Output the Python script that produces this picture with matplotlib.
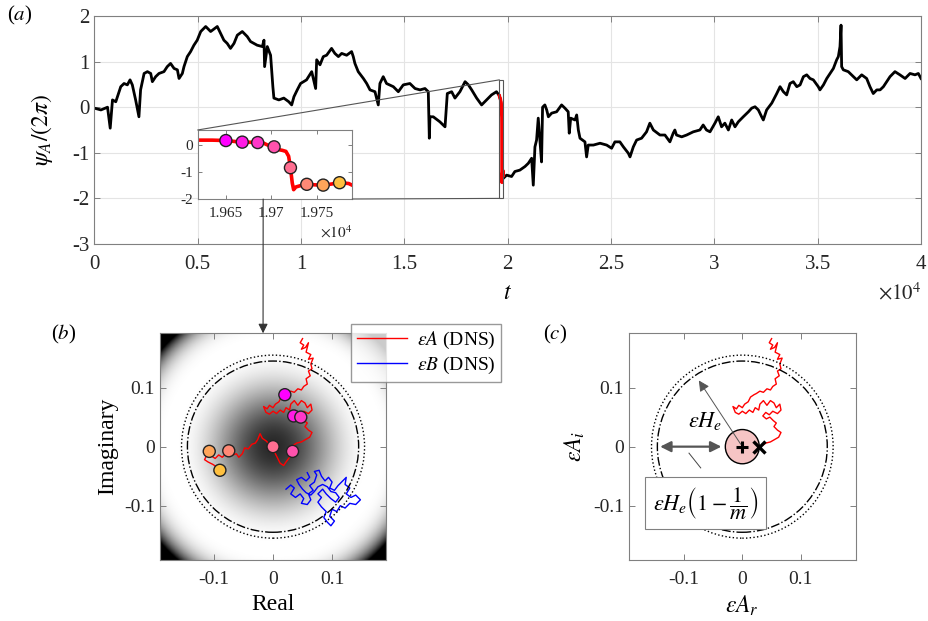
import numpy as np
import matplotlib
matplotlib.use("Agg")
import matplotlib.pyplot as plt
from matplotlib.patches import Circle, Rectangle, ConnectionPatch

plt.rcParams['font.family'] = ['Liberation Serif', 'DejaVu Serif']
plt.rcParams['mathtext.fontset'] = 'stix'
plt.rcParams['axes.unicode_minus'] = False

# (a) phase of A, time in units of 1e4 (black part)
t_a = [0.0, 0.032, 0.064, 0.077, 0.088, 0.104, 0.128, 0.144, 0.160, 0.173, 0.184, 0.200, 0.216, 0.224,
       0.241, 0.257, 0.273, 0.281, 0.297, 0.313, 0.337, 0.353, 0.369, 0.386, 0.402, 0.410, 0.426, 0.434,
       0.450, 0.466, 0.482, 0.498, 0.515, 0.539, 0.563, 0.595, 0.611, 0.627, 0.643, 0.659, 0.676, 0.692,
       0.716, 0.740, 0.756, 0.788, 0.813, 0.821, 0.824, 0.837, 0.853, 0.864, 0.869, 0.893, 0.917, 0.941,
       0.955, 0.966, 0.982, 0.998, 1.027, 1.052, 1.071, 1.076, 1.092, 1.108, 1.124, 1.148, 1.164, 1.181,
       1.197, 1.221, 1.245, 1.253, 1.261, 1.277, 1.302, 1.318, 1.334, 1.358, 1.374, 1.382, 1.398, 1.414,
       1.447, 1.471, 1.495, 1.527, 1.552, 1.576, 1.600, 1.616, 1.621, 1.624, 1.640, 1.672, 1.697, 1.708,
       1.729, 1.745, 1.769, 1.794, 1.810, 1.826, 1.850, 1.874, 1.898, 1.922, 1.946, 1.960,
       1.979, 1.995, 2.019, 2.035, 2.059, 2.084, 2.100, 2.116, 2.124, 2.132, 2.140, 2.148, 2.156, 2.164,
       2.169, 2.180, 2.189, 2.197, 2.213, 2.237, 2.261, 2.277, 2.293, 2.298, 2.305, 2.326, 2.334, 2.342,
       2.350, 2.374, 2.382, 2.390, 2.415, 2.447, 2.479, 2.503, 2.519, 2.543, 2.560, 2.584, 2.592, 2.608,
       2.624, 2.648, 2.672, 2.688, 2.705, 2.737, 2.761, 2.785, 2.801, 2.809, 2.817, 2.842, 2.866, 2.898,
       2.930, 2.946, 2.962, 2.979, 3.003, 3.019, 3.035, 3.051, 3.068, 3.084, 3.100, 3.116, 3.140, 3.165,
       3.181, 3.197, 3.213, 3.229, 3.237, 3.253, 3.278, 3.302, 3.318, 3.334, 3.350, 3.366, 3.382, 3.399,
       3.415, 3.431, 3.447, 3.463, 3.479, 3.503, 3.511, 3.528, 3.544, 3.560, 3.576, 3.592, 3.600, 3.608,
       3.613, 3.616, 3.624, 3.648, 3.673, 3.689, 3.713, 3.737, 3.753, 3.769, 3.786, 3.802, 3.818, 3.834,
       3.850, 3.874, 3.898, 3.923, 3.947, 3.971, 3.987, 4.0]
psi_a = [-0.02, -0.06, 0.0, -0.46, 0.16, 0.12, 0.45, 0.52, 0.49, 0.60, 0.49, 0.16, -0.21, 0.38,
         0.74, 0.78, 0.74, 0.56, 0.67, 0.74, 0.78, 0.89, 0.96, 0.85, 0.82, 0.63, 0.74, 0.89,
         1.11, 1.22, 1.36, 1.47, 1.66, 1.77, 1.66, 1.77, 1.62, 1.47, 1.40, 1.29, 1.40, 1.58,
         1.66, 1.55, 1.44, 1.36, 1.33, 1.47, 0.89, 1.33, 1.14, 0.45, 0.20, 0.16, 0.20, 0.12,
         0.05, 0.23, 0.38, 0.52, 0.60, 0.78, 0.41, 1.04, 0.93, 1.11, 1.14, 1.29, 1.18, 1.11,
         1.18, 1.14, 1.22, 1.11, 0.96, 0.78, 0.63, 0.52, 0.38, 0.34, 0.05, 0.52, 0.67, 0.52,
         0.45, 0.34, 0.49, 0.52, 0.41, 0.38, 0.41, 0.34, -0.68, -0.21, -0.21, -0.32, -0.43, 0.30,
         0.34, 0.20, 0.34, 0.56, 0.49, 0.38, 0.20, 0.05, 0.16, 0.27, 0.34, 0.25,
         -1.56, -1.49, -1.52, -1.41, -1.38, -1.30, -1.23, -1.12, -1.71, -0.87, -0.72, -0.24, -0.72, -1.20,
         0.0, 0.05, -0.06, -0.21, -0.13, -0.10, 0.05, -0.02, -0.10, -0.57, -0.24, -0.28, -0.17, -0.50,
         -0.68, -0.76, -1.09, -0.83, -0.83, -0.79, -0.83, -0.90, -0.76, -0.76, -0.87, -1.01, -1.09, -0.87,
         -0.72, -0.68, -0.54, -0.35, -0.50, -0.61, -0.61, -0.76, -0.57, -0.50, -0.61, -0.65, -0.61, -0.54,
         -0.50, -0.39, -0.50, -0.54, -0.35, -0.21, -0.43, -0.35, -0.50, -0.28, -0.43, -0.32, -0.21, -0.10,
         -0.02, 0.01, -0.06, -0.21, -0.28, -0.06, 0.09, 0.30, 0.45, 0.34, 0.27, 0.52, 0.56, 0.45,
         0.49, 0.67, 0.71, 0.63, 0.60, 0.45, 0.38, 0.49, 0.63, 0.74, 0.85, 1.04, 1.11, 1.33,
         1.80, 0.89, 0.82, 0.78, 0.67, 0.60, 0.71, 0.63, 0.45, 0.30, 0.38, 0.38, 0.45, 0.56,
         0.67, 0.78, 0.71, 0.63, 0.74, 0.71, 0.74, 0.63]

# red segment (phase slip) shown in the inset
t_jump = [1.9600, 1.9620, 1.9635, 1.9650, 1.9660, 1.9668, 1.9678, 1.9685, 1.9692, 1.9697, 1.9703,
          1.9707, 1.9712, 1.9716, 1.9719, 1.9721, 1.9723, 1.97245, 1.9727, 1.9732, 1.9739, 1.9748,
          1.9757, 1.9766, 1.9775, 1.9785, 1.9790]
psi_jump = [0.25, 0.20, 0.20, 0.185, 0.15, 0.126, 0.12, 0.11, 0.08, 0.0, -0.05,
            -0.15, -0.18, -0.22, -0.40, -0.83, -1.40, -1.65, -1.55, -1.50, -1.45, -1.47,
            -1.48, -1.44, -1.39, -1.42, -1.50]

# sampled instants
t_mark = [1.9650, 1.9668, 1.9685, 1.9703, 1.9721, 1.9739, 1.9757, 1.9775]
psi_mark = [0.185, 0.126, 0.11, -0.05, -0.83, -1.45, -1.48, -1.39]
re_mark = [0.020, 0.035, 0.047, 0.033, 0.0, -0.075, -0.108, -0.090]
im_mark = [0.088, 0.052, 0.050, -0.008, 0.0, -0.007, -0.008, -0.040]
mark_colors = ['#ff00ff', '#ff1be4', '#ff37c8', '#ff52ad', '#ff6e91', '#ff8976', '#ffa55a', '#ffc03f']

# trajectory of eps*A in the complex plane (time ordered)
re_A = [0.050, 0.046, 0.052, 0.048, 0.055, 0.060, 0.056, 0.064, 0.060, 0.068, 0.064, 0.066, 0.060, 0.063,
        0.056, 0.058, 0.052, 0.048, 0.042, 0.036, 0.030, 0.024, 0.020,
        0.014, 0.010, 0.004, 0.000, -0.006, -0.010, -0.016, -0.012, -0.006, 0.000, 0.006, 0.012, 0.018,
        0.022, 0.028, 0.030, 0.036, 0.042, 0.048, 0.054, 0.058, 0.064, 0.066, 0.060, 0.052, 0.046, 0.040,
        0.035, 0.041, 0.047, 0.053, 0.058, 0.054, 0.060, 0.066, 0.062, 0.055, 0.048, 0.040, 0.034, 0.028,
        0.033, 0.028, 0.022, 0.018, 0.012, 0.008, 0.004, 0.000, 0.000, -0.006, -0.012, -0.018, -0.022,
        -0.026, -0.030, -0.036, -0.042, -0.048, -0.052, -0.058, -0.062, -0.068, -0.075, -0.080, -0.086,
        -0.092, -0.098, -0.104, -0.108, -0.112, -0.116, -0.110, -0.102, -0.096, -0.090]
im_A = [0.183, 0.176, 0.172, 0.165, 0.168, 0.176, 0.160, 0.156, 0.148, 0.150, 0.140, 0.132, 0.128, 0.120,
        0.115, 0.106, 0.102, 0.096, 0.098, 0.092, 0.094, 0.090, 0.088,
        0.084, 0.076, 0.072, 0.066, 0.070, 0.064, 0.068, 0.058, 0.055, 0.060, 0.056, 0.062, 0.058,
        0.066, 0.062, 0.072, 0.078, 0.070, 0.078, 0.074, 0.066, 0.072, 0.062, 0.056, 0.060, 0.054, 0.058,
        0.052, 0.047, 0.050, 0.044, 0.040, 0.034, 0.028, 0.024, 0.016, 0.012, 0.008, 0.006, 0.002, 0.000,
        -0.008, -0.018, -0.026, -0.032, -0.028, -0.020, -0.012, -0.004, 0.000, 0.004, 0.010, 0.014, 0.022,
        0.012, 0.006, 0.004, -0.004, -0.002, -0.012, -0.018, -0.012, -0.014, -0.007, -0.012, -0.018,
        -0.014, -0.020, -0.016, -0.008, -0.014, -0.022, -0.026, -0.030, -0.034, -0.040]
n_c = 64  # points up to the current state shown in (c)

# trajectory of eps*B
re_B = [0.022, 0.030, 0.036, 0.030, 0.038, 0.046, 0.052, 0.048, 0.058, 0.064, 0.060, 0.068, 0.062, 0.070,
        0.074, 0.070, 0.078, 0.082, 0.088, 0.094, 0.100, 0.096, 0.104, 0.110, 0.118, 0.124, 0.122, 0.130,
        0.124, 0.132, 0.140, 0.148, 0.140, 0.130, 0.122, 0.114, 0.108, 0.100, 0.096, 0.104, 0.098, 0.092,
        0.086, 0.090, 0.082, 0.076, 0.082, 0.076, 0.084, 0.090, 0.098, 0.106, 0.112, 0.106, 0.098, 0.092,
        0.084, 0.076, 0.070, 0.064, 0.056, 0.050, 0.044, 0.040, 0.048, 0.056, 0.062, 0.058]
im_B = [-0.072, -0.065, -0.070, -0.080, -0.086, -0.080, -0.088, -0.096, -0.098, -0.090, -0.080, -0.074,
        -0.066, -0.060, -0.048, -0.042, -0.040, -0.050, -0.058, -0.052, -0.060, -0.070, -0.074, -0.066,
        -0.058, -0.052, -0.064, -0.070, -0.080, -0.086, -0.082, -0.090, -0.098, -0.096, -0.104, -0.100,
        -0.110, -0.106, -0.118, -0.126, -0.134, -0.128, -0.120, -0.110, -0.102, -0.094, -0.086, -0.080,
        -0.072, -0.080, -0.088, -0.094, -0.086, -0.078, -0.076, -0.068, -0.064, -0.068, -0.076, -0.082,
        -0.078, -0.072, -0.064, -0.056, -0.052, -0.058, -0.052, -0.044]

# reference radii and current state
r_inner = 0.145
r_outer = 0.155
r_small = 0.029
r_white = 0.175
x_now = 0.028

spine_c = '#808080'


def style_axes(ax, size):
    ax.tick_params(direction='in', top=True, right=True, labelsize=size, color=spine_c,
                   labelcolor='#262626', length=4, width=0.7)
    for s in ax.spines.values():
        s.set_color(spine_c)
        s.set_linewidth(0.8)


fig = plt.figure(figsize=(9.29, 6.21), dpi=100)

# ---- (a)
ax = fig.add_axes([0.1015, 0.6071, 0.8899, 0.3671])
ax.plot(t_a[:110], psi_a[:110], color='k', lw=2.0)
ax.plot(t_a[110:], psi_a[110:], color='k', lw=2.0)
ax.plot(t_jump, psi_jump, color='r', lw=2.4, zorder=3)
ax.set_xlim(0, 4)
ax.set_ylim(-3, 2)
ax.set_xticks([0, 0.5, 1, 1.5, 2, 2.5, 3, 3.5, 4])
ax.set_xticklabels(['0', '0.5', '1', '1.5', '2', '2.5', '3', '3.5', '4'])
ax.set_yticks([-3, -2, -1, 0, 1, 2])
ax.set_yticklabels(['-3', '-2', '-1', '0', '1', '2'])
ax.grid(True, color='#e4e4e4', lw=0.8)
ax.set_axisbelow(True)
style_axes(ax, 15)
ax.tick_params(axis='x', pad=8)
ax.set_xlabel(r'$t$', fontsize=17)
ax.xaxis.set_label_coords(0.5, -0.17)
ax.set_ylabel(r'$\psi_A/(2\pi)$', fontsize=17)
ax.yaxis.set_label_coords(-0.047, 0.5)
ax.add_patch(Rectangle((1.960, -2), 0.019, 2.6, fill=False, ec='#555555', lw=0.8, zorder=4))
fig.text(0.9914, 0.528, r'$\times 10^4$', fontsize=15, ha='right', va='center', color='#262626')
fig.text(0.007, 0.975, r'($a$)', fontsize=15, ha='left', va='center')

# inset
axi = fig.add_axes([0.2128, 0.6795, 0.1664, 0.1112])
axi.plot(t_jump, psi_jump, color='k', lw=1.0)
axi.plot(t_jump, psi_jump, color='r', lw=2.6)
axi.scatter(t_mark, psi_mark, s=75, c=mark_colors, edgecolors='#222222', linewidths=1.0, zorder=5)
axi.set_xlim(1.9619, 1.9789)
axi.set_ylim(-2, 0.58)
axi.set_xticks([1.965, 1.97, 1.975])
axi.set_xticklabels(['1.965', '1.97', '1.975'])
axi.set_yticks([-2, -1, 0])
axi.set_yticklabels(['-2', '-1', '0'])
style_axes(axi, 11)
axi.tick_params(length=3)
axi.tick_params(axis='x', pad=6)
fig.text(0.362, 0.625, r'$\times 10^4$', fontsize=11, ha='center', va='center', color='#262626')

for xyA, xyB in [((0, 1), (1.960, 0.6)), ((1, 0), (1.960, -2))]:
    con = ConnectionPatch(xyA=xyA, coordsA=axi.transAxes, xyB=xyB, coordsB=ax.transData,
                          color='#555555', lw=0.8)
    fig.add_artist(con)

# ---- (b)
axb = fig.add_axes([0.1715, 0.0982, 0.2448, 0.3651])
g = np.linspace(-0.192, 0.192, 400)
X, Y = np.meshgrid(g, g)
u = (X ** 2 + Y ** 2) / r_white ** 2
shade = np.clip(1 - 0.84 * np.abs(1 - u) ** 3, 0, 1)
axb.imshow(shade, cmap='gray', vmin=0, vmax=1, extent=[-0.192, 0.192, -0.192, 0.192],
           origin='lower', interpolation='bilinear')
lA, = axb.plot(re_A, im_A, color='r', lw=1.0, label=r'$\varepsilon A$ (DNS)')
lB, = axb.plot(re_B, im_B, color='b', lw=1.0, label=r'$\varepsilon B$ (DNS)')
axb.add_patch(Circle((0, 0), r_inner, fill=False, ec='k', lw=1.0, ls='-.', zorder=4))
axb.add_patch(Circle((0, 0), r_outer, fill=False, ec='k', lw=1.0, ls=':', zorder=4))
axb.scatter(re_mark, im_mark, s=75, c=mark_colors, edgecolors='#222222', linewidths=1.0, zorder=6)
axb.set_xlim(-0.192, 0.192)
axb.set_ylim(-0.192, 0.192)
axb.set_xticks([-0.1, 0, 0.1])
axb.set_xticklabels(['-0.1', '0', '0.1'])
axb.set_yticks([-0.1, 0, 0.1])
axb.set_yticklabels(['-0.1', '0', '0.1'])
style_axes(axb, 14)
axb.tick_params(axis='x', pad=8)
axb.set_xlabel('Real', fontsize=17)
axb.set_ylabel('Imaginary', fontsize=17)
fig.text(0.055, 0.462, r'($b$)', fontsize=15, ha='left', va='center')

fig.legend(handles=[lA, lB], loc='upper left', bbox_to_anchor=(0.3775, 0.4778), fontsize=14,
           frameon=True, fancybox=False, edgecolor='#808080', borderaxespad=0,
           handlelength=2.6, borderpad=0.3, labelspacing=0.2, handletextpad=0.5)

con = ConnectionPatch(xyA=(1.9691, -2), coordsA=axi.transData, xyB=(0.456, 1.0), coordsB=axb.transAxes,
                      color='#333333', lw=0.8, arrowstyle='-|>', mutation_scale=14)
fig.add_artist(con)

# ---- (c)
axc = fig.add_axes([0.6767, 0.0982, 0.2447, 0.3651])
axc.plot(re_A[:n_c], im_A[:n_c], color='r', lw=1.0)
axc.add_patch(Circle((0, 0), r_inner, fill=False, ec='k', lw=1.0, ls='-.', zorder=4))
axc.add_patch(Circle((0, 0), r_outer, fill=False, ec='k', lw=1.0, ls=':', zorder=4))
axc.add_patch(Circle((0, 0), r_small, fc='#f6c4c4', ec='k', lw=1.0, zorder=5))
axc.plot([0], [0], marker='+', color='k', ms=8, mew=2.2, zorder=6)
axc.plot([x_now], [0], marker='x', color='k', ms=8, mew=2.4, zorder=6)
ang = np.deg2rad(123.5)
axc.annotate('', xy=(r_inner * 0.96 * np.cos(ang), r_inner * 0.96 * np.sin(ang)), xytext=(0, 0),
             arrowprops=dict(arrowstyle='-|>', color='#555555', lw=0.7, mutation_scale=16), zorder=7)
axc.annotate('', xy=(-r_inner, 0), xytext=(-r_small - 0.002, 0),
             arrowprops=dict(arrowstyle='<|-|>', color='#555555', lw=1.6, mutation_scale=16), zorder=7)
axc.plot([-0.091, -0.071], [-0.011, -0.036], color='#444444', lw=0.7, zorder=7)
axc.text(-0.063, 0.044, r'$\varepsilon H_e$', fontsize=16, ha='center', va='center', zorder=8)
axc.text(-0.063, -0.095, r'$\varepsilon H_e\left(1-\dfrac{1}{m}\right)$', fontsize=16,
         ha='center', va='center', zorder=8,
         bbox=dict(boxstyle='square,pad=0.35', fc='white', ec='#808080', lw=0.8))
axc.set_xlim(-0.194, 0.194)
axc.set_ylim(-0.192, 0.192)
axc.set_xticks([-0.1, 0, 0.1])
axc.set_xticklabels(['-0.1', '0', '0.1'])
axc.set_yticks([-0.1, 0, 0.1])
axc.set_yticklabels(['-0.1', '0', '0.1'])
style_axes(axc, 14)
axc.tick_params(axis='x', pad=8)
axc.set_xlabel(r'$\varepsilon A_r$', fontsize=17)
axc.set_ylabel(r'$\varepsilon A_i$', fontsize=17)
fig.text(0.585, 0.462, r'($c$)', fontsize=15, ha='left', va='center')

fig.savefig('out.png', dpi=100)
